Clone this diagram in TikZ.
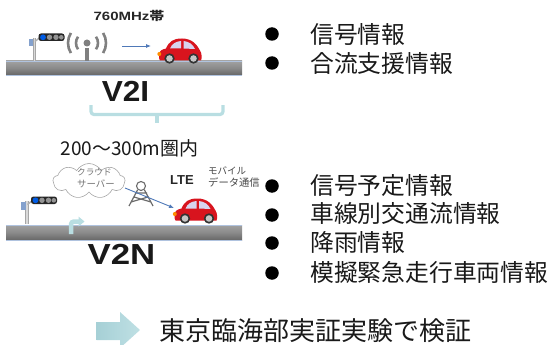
\documentclass[tikz,border=0pt]{standalone}
\usepackage{fontspec}
\setmainfont{Noto Sans CJK JP}
\newfontfamily\latinb{Liberation Sans}
\usetikzlibrary{arrows.meta,shapes.symbols,calc}
\definecolor{teal1}{HTML}{B9DEE2}
\definecolor{teal2}{HTML}{A6D0D6}
\definecolor{teal3}{HTML}{BFE0E4}
\definecolor{roadg}{HTML}{8A8A8A}
\definecolor{carred}{HTML}{D8141E}
\definecolor{wblue}{HTML}{4F79B8}
\tikzset{
  x=1pt,y=-1pt,
  road/.style={top color=roadg!80,bottom color=roadg!75!black,middle color=roadg,draw=none},
  roadedge/.style={draw=wblue!45,line width=.9},
  bul/.style={circle,fill=black,minimum size=13.5,inner sep=0},
  listtxt/.style={anchor=west,inner sep=0,font=\fontsize{23.8}{24}\selectfont,text=black!90},
  head/.style={inner sep=0,font=\latinb\bfseries\fontsize{29}{29}\selectfont,text=black!90},
  small/.style={inner sep=0,anchor=west,text=black!72},
  pics/signal/.style={code={
    \fill[gray!70] (-1.6,0) rectangle (1.6,23);
    \fill[gray!30] (-.6,0) rectangle (.6,23);
    \fill[gray!60] (0,3) -- (6,-2) -- (6,0) -- (1,4) -- cycle;
    \fill[wblue!70] (-6,0.8) rectangle (-1.2,8.5);
    \fill[black!85,rounded corners=2.5] (4,-4.5) rectangle (30,3);
    \fill[blue!60!cyan!90!black] (8.5,-.7) circle (2.9);
    \fill[gray!85] (15,-.7) circle (2.7);
    \fill[gray!85] (21.5,-.7) circle (2.7);
    \fill[gray!85] (26.8,-.7) circle (2.3);
  }},
  pics/car/.style={code={
    \fill[carred] (0,17) .. controls (0,12) and (3,11) .. (7,10) .. controls (10,3) and (14,0) .. (23,0)
      .. controls (33,0) and (38,6) .. (41,12) .. controls (43,15) and (43,20) .. (42,22) -- (1,22) .. controls (0,21) and (0,19) .. (0,17) -- cycle;
    \fill[cyan!10!blue!15] (11,10) .. controls (13,5) and (17,3) .. (22,2.5) -- (22,10) -- cycle;
    \fill[cyan!10!blue!15] (24.5,2.5) .. controls (30,3) and (34,6) .. (36,10.5) -- (24.5,10) -- cycle;
    \fill[orange!90!yellow] (0.3,15.5) circle (2);
    \fill[black!80] (10.5,20) circle (5.2);
    \fill[black!80] (34.5,20) circle (5.2);
    \fill[gray!45] (10.5,20) circle (3.3);
    \fill[gray!45] (34.5,20) circle (3.3);
  }},
}
\begin{document}
\begin{tikzpicture}
\useasboundingbox (0,0) rectangle (549,345);
% --- V2I
\node[inner sep=0,xscale=1.25,font=\latinb\bfseries\fontsize{12}{12}\selectfont,text=black!85] (freq) at (129,16) {760MHz{\fontspec{Noto Sans CJK JP}帯}};
\path[road] (6,61) rectangle (242,75);
\draw[roadedge] (6,61) -- (242,61);
\draw[roadedge] (6,75) -- (242,75);
\pic at (34.5,38) {signal};
\coordinate (ant) at (87,43);
\fill[gray] (ant) circle (3.5);
\fill[gray] ($(ant)+(-2,5)$) rectangle ($(ant)+(2,18)$);
\draw[gray,line width=2.6] ($(ant)+(35:11)$) arc[start angle=35,end angle=-35,radius=11];
\draw[gray,line width=2.6] ($(ant)+(145:11)$) arc[start angle=145,end angle=215,radius=11];
\draw[gray,line width=2.6] ($(ant)+(32:19)$) arc[start angle=32,end angle=-32,radius=19];
\draw[gray,line width=2.6] ($(ant)+(148:19)$) arc[start angle=148,end angle=212,radius=19];
\coordinate (a1) at (122,46);
\coordinate (a2) at (151,46);
\draw[wblue,line width=.8,-{Latex[length=5,width=4]}] (a1) -- (a2);
\pic at (159,38.5) {car};
\node[head,xscale=1.09] (v2i) at (125.5,91) {V2I};
\coordinate (bl) at (91,105);
\coordinate (br) at (223,105);
\coordinate (bm) at (157,115);
\coordinate (bs) at (157,123);
\draw[teal1,line width=3.2,rounded corners=3] (bl) -- (91,114.5) -- (223,114.5) -- (br);
\draw[teal1,line width=3.2] (bm) -- (bs);
% --- V2N
\node[inner sep=0,font=\fontsize{19}{19}\selectfont,text=black!90] (range) at (129.5,148) {200〜300m圏内};
\node[cloud,draw=gray!70,line width=.6,fill=white,cloud puffs=9,cloud puff arc=120,aspect=2,minimum width=72,minimum height=35,inner sep=0] (cl) at (89,181) {};
\node[small,font=\fontsize{8.6}{9}\selectfont,text=black!55] (cl1) at (77,172) {クラウド};
\node[small,font=\fontsize{9.4}{9.4}\selectfont,text=black!55] (cl2) at (77,184) {サーバー};
\node[small,font=\latinb\bfseries\fontsize{13}{13}\selectfont,text=black!85] (lte) at (170,180) {LTE};
\node[small,font=\fontsize{9.5}{9.5}\selectfont] (mob) at (208,171) {モバイル};
\node[small,font=\fontsize{10.3}{10.3}\selectfont] (dat) at (208,183) {データ通信};
\pic at (27,201) {signal};
% tower
\coordinate (tw) at (141,186);
\draw[gray!85!black,line width=1.1] (tw) circle (4.5);
\draw[gray!85!black,line width=1.2] (129,206) -- (137.5,190) (153,206) -- (144.5,190)
  (131,202) -- (148,197) (151,202) -- (134,197) (135,193) -- (147,193);
\coordinate (la) at (125,188);
\coordinate (lb) at (174,208);
\draw[wblue,line width=.9,-{Latex[length=5,width=4]}] (la) -- (lb);
\path[road] (6,225) rectangle (242,240);
\draw[roadedge] (6,225) -- (242,225);
\draw[roadedge] (6,240) -- (242,240);
\draw[teal1,line width=4.5] (71,234) -- (71,226) .. controls (71,222) and (72,221.5) .. (76,221.5) -- (79,221.5);
\fill[teal1] (78.5,216.5) -- (84.5,221.5) -- (78.5,226.5) -- cycle;
\pic at (174.5,198.5) {car};
\node[head,xscale=1.2] (v2n) at (121.5,254.5) {V2N};
% --- bullets
\foreach \n/\y in {b1/34,b2/63,b3/186,b4/215,b5/243,b6/273}{\node[bul] (\n) at (272,\y) {};}
\node[listtxt] (t1) at (310,34) {信号情報};
\node[listtxt] (t2) at (310,63) {合流支援情報};
\node[listtxt] (t3) at (310,186) {信号予定情報};
\node[listtxt] (t4) at (310,213) {車線別交通流情報};
\node[listtxt] (t5) at (310,242) {降雨情報};
\node[listtxt] (t6) at (310,272) {模擬緊急走行車両情報};
% --- bottom
\path[left color=teal2,right color=teal3]
  (96.5,322) -- (120,322) -- (120,312) -- (140,330) -- (120,348) -- (120,340) -- (96.5,340) -- cycle;
\node[inner sep=0,anchor=west,font=\fontsize{26}{26}\selectfont,text=black!90] (concl) at (159,331) {東京臨海部実証実験で検証};
\end{tikzpicture}
\end{document}
